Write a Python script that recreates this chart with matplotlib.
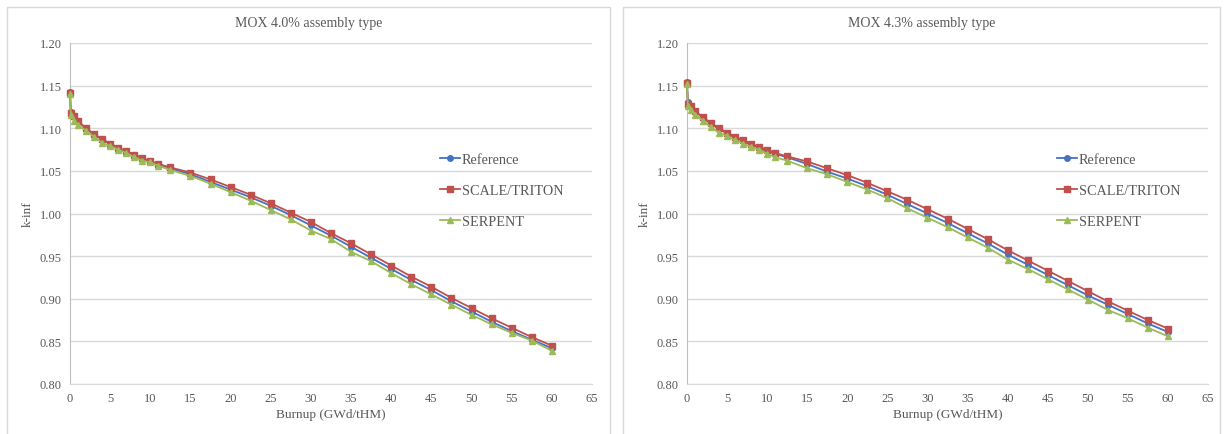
import matplotlib
matplotlib.use("Agg")
import matplotlib.pyplot as plt
from matplotlib.patches import Rectangle

plt.rcParams['font.family'] = ['Liberation Serif', 'DejaVu Serif']

burnup = [0, 0.1, 0.5, 1, 2, 3, 4, 5, 6, 7, 8, 9, 10, 11, 12.5, 15, 17.5, 20,
          22.5, 25, 27.5, 30, 32.5, 35, 37.5, 40, 42.5, 45, 47.5, 50, 52.5, 55, 57.5, 60]

# MOX 4.0%
ref_40 = [1.143, 1.119, 1.114, 1.108, 1.100, 1.093, 1.087, 1.082, 1.077, 1.073, 1.069, 1.065,
          1.061, 1.058, 1.053, 1.046, 1.037, 1.028, 1.019, 1.009, 0.998, 0.986, 0.974, 0.961,
          0.948, 0.935, 0.922, 0.910, 0.897, 0.885, 0.873, 0.862, 0.852, 0.842]
scale_40 = [1.141, 1.118, 1.114, 1.108, 1.100, 1.093, 1.087, 1.082, 1.077, 1.073, 1.069, 1.065,
            1.061, 1.058, 1.054, 1.048, 1.040, 1.031, 1.022, 1.012, 1.001, 0.990, 0.977, 0.965,
            0.952, 0.939, 0.926, 0.914, 0.901, 0.889, 0.877, 0.866, 0.855, 0.845]
serp_40 = [1.140, 1.115, 1.109, 1.104, 1.097, 1.090, 1.083, 1.079, 1.075, 1.071, 1.066, 1.062,
           1.060, 1.056, 1.051, 1.044, 1.035, 1.025, 1.015, 1.004, 0.993, 0.980, 0.970, 0.955,
           0.944, 0.930, 0.917, 0.905, 0.893, 0.881, 0.870, 0.860, 0.851, 0.839]

# MOX 4.3%
ref_43 = [1.154, 1.131, 1.126, 1.120, 1.112, 1.105, 1.099, 1.094, 1.089, 1.085, 1.081, 1.077,
          1.073, 1.070, 1.066, 1.058, 1.049, 1.041, 1.032, 1.022, 1.011, 1.000, 0.989, 0.977,
          0.965, 0.952, 0.940, 0.928, 0.916, 0.904, 0.893, 0.882, 0.871, 0.861]
scale_43 = [1.153, 1.129, 1.126, 1.120, 1.113, 1.106, 1.100, 1.095, 1.090, 1.086, 1.082, 1.078,
            1.075, 1.071, 1.067, 1.061, 1.053, 1.045, 1.036, 1.026, 1.016, 1.005, 0.994, 0.982,
            0.970, 0.957, 0.945, 0.933, 0.921, 0.909, 0.897, 0.886, 0.875, 0.865]
serp_43 = [1.152, 1.126, 1.121, 1.116, 1.109, 1.101, 1.095, 1.091, 1.086, 1.082, 1.078, 1.075,
           1.070, 1.066, 1.062, 1.053, 1.046, 1.037, 1.028, 1.018, 1.006, 0.995, 0.984, 0.972,
           0.960, 0.946, 0.935, 0.923, 0.911, 0.899, 0.887, 0.877, 0.866, 0.856]

titles = ["MOX 4.0% assembly type", "MOX 4.3% assembly type"]
series_names = ["Reference", "SCALE/TRITON", "SERPENT"]
yticks = [0.80, 0.85, 0.90, 0.95, 1.00, 1.05, 1.10, 1.15, 1.20]
xticks = list(range(0, 70, 5))

colors = ["#4472C4", "#C0504D", "#9BBB59"]
markers = ["o", "s", "^"]
msizes = [4, 5, 4.5]
txt = "#595959"

W, H = 1224, 435
fig = plt.figure(figsize=(W / 100, H / 100), dpi=100)

panels = [
    dict(box=(7, 8, 610, 440), ax=(70, 44, 592, 385), data=(ref_40, scale_40, serp_40), leg=(434, 148)),
    dict(box=(623, 8, 1220, 440), ax=(687, 44, 1208, 385), data=(ref_43, scale_43, serp_43), leg=(1051, 148)),
]

for i, p in enumerate(panels):
    bx0, by0, bx1, by1 = p["box"]
    fig.patches.append(Rectangle((bx0 / W, 1 - by1 / H), (bx1 - bx0) / W, (by1 - by0) / H,
                                 transform=fig.transFigure, fill=False, edgecolor="#d9d9d9",
                                 linewidth=1.0, zorder=0))
    # chart title centred on the panel box
    fig.text((bx0 + bx1) / 2 / W, 1 - 24 / H, titles[i], ha="center", va="center",
             fontsize=10, color=txt)
    x0, y0, x1, y1 = p["ax"]
    ax = fig.add_axes([x0 / W, 1 - y1 / H, (x1 - x0) / W, (y1 - y0) / H])
    for s, (name, c, m, ms) in enumerate(zip(series_names, colors, markers, msizes)):
        ax.plot(burnup, p["data"][s], color=c, marker=m, markersize=ms, linewidth=1.3,
                label=name, zorder=3, clip_on=False)
    ax.set_xlim(0, 65)
    ax.set_ylim(0.80, 1.20)
    ax.set_xticks(xticks)
    ax.set_yticks(yticks)
    ax.set_yticklabels([f"{v:.2f}" for v in yticks])
    ax.grid(axis="y", color="#d9d9d9", linewidth=1.0)
    ax.set_axisbelow(True)
    for sp in ["top", "right"]:
        ax.spines[sp].set_visible(False)
    ax.spines["left"].set_color("#bfbfbf")
    ax.spines["bottom"].set_color("#d9d9d9")
    ax.tick_params(axis="both", length=0, labelsize=9, colors=txt, pad=6)
    ax.set_xlabel("Burnup (GWd/tHM)", fontsize=9.5, color=txt, labelpad=3)
    ax.set_ylabel("k-inf", fontsize=9.5, color=txt, labelpad=4)
    lx, ly = p["leg"]
    leg = ax.legend(loc="upper left", bbox_to_anchor=(lx / W, 1 - ly / H),
                    bbox_transform=fig.transFigure, frameon=False, fontsize=10.3,
                    labelspacing=1.28, handlelength=1.45, handletextpad=0.1,
                    borderaxespad=0)
    for t in leg.get_texts():
        t.set_color(txt)

fig.savefig("out.png", dpi=100, facecolor="white")
